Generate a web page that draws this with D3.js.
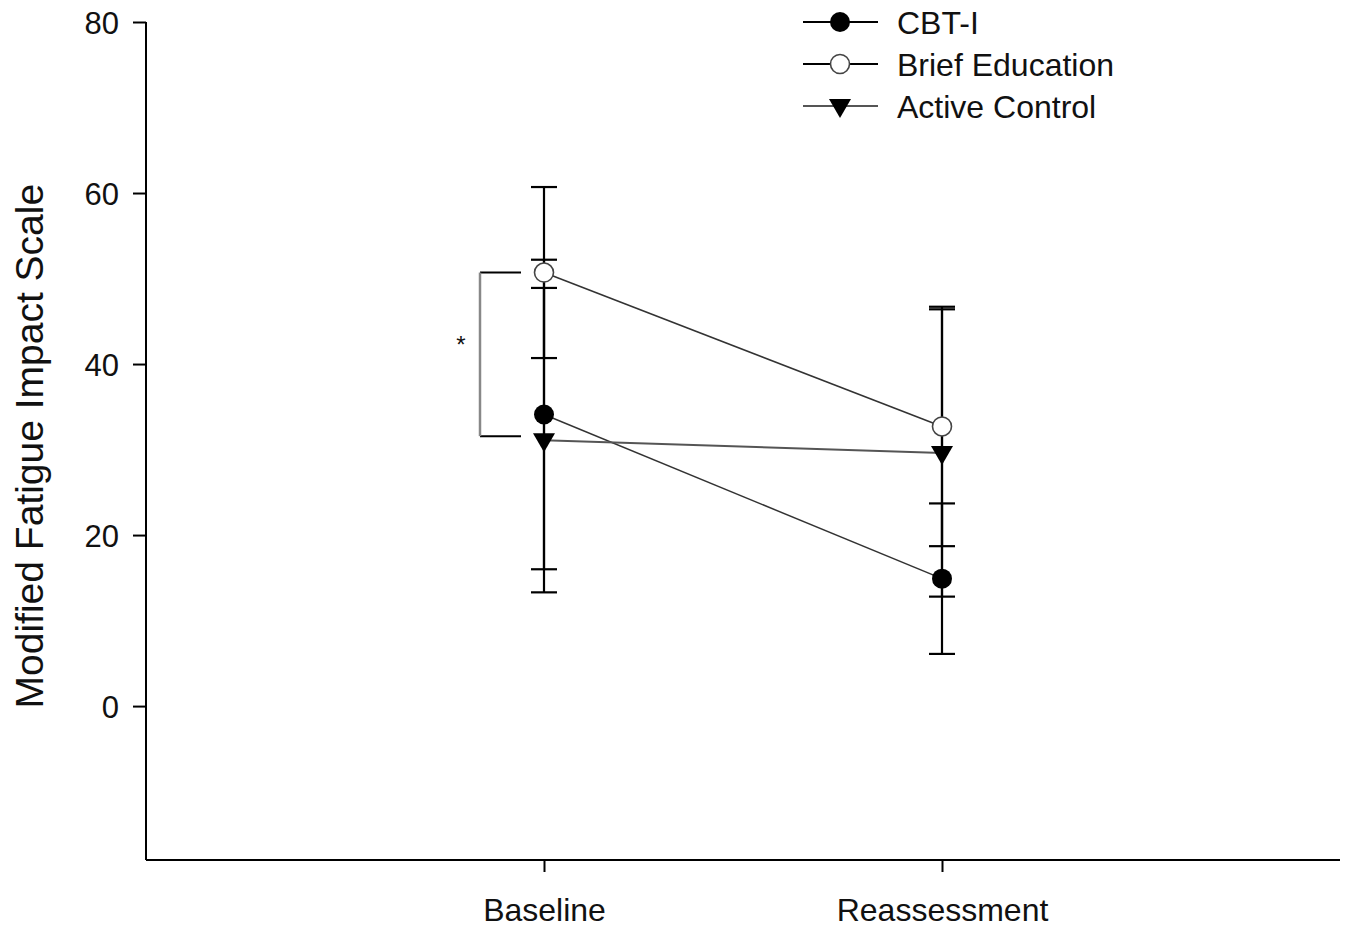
<!DOCTYPE html>
<html>
<head>
<meta charset="utf-8">
<script src="https://cdn.jsdelivr.net/npm/d3@7"></script>
<style>
  body { margin: 0; background: #fff; }
  text { font-family: "Liberation Sans", Arial, sans-serif; fill: #111; }
</style>
</head>
<body>
<div id="chart"></div>
<script>
var categories = ["Baseline", "Reassessment"];
var seriesNames = ["CBT-I", "Brief Education", "Active Control"];
var cbtMeans = [34.1, 14.9];
var cbtSD = [18.1, 8.8];
var briefMeans = [50.7, 32.7];
var briefSD = [10.0, 14.0];
var activeMeans = [31.1, 29.6];
var activeSD = [17.8, 16.8];
var yTicks = [0, 20, 40, 60, 80];

function init() {
    var w = 1356;
    var h = 928;

    var svg = d3.select("#chart")
        .append("svg")
        .attr("width", w)
        .attr("height", h);

    var x = d3.scaleLinear().domain([0, 3]).range([146, 1340]);
    var y = d3.scaleLinear().domain([-18, 80]).range([860, 22]);

    var series = [
        { name: seriesNames[0], means: cbtMeans, sd: cbtSD, marker: "filled", lineColor: "#333", lineWidth: 1.5 },
        { name: seriesNames[1], means: briefMeans, sd: briefSD, marker: "open", lineColor: "#333", lineWidth: 1.5 },
        { name: seriesNames[2], means: activeMeans, sd: activeSD, marker: "triangle", lineColor: "#555", lineWidth: 2 }
    ];

    // axes
    var yAxis = d3.axisLeft(y).tickValues(yTicks).tickSize(13).tickPadding(14);
    var gy = svg.append("g").attr("transform", "translate(146,0)").call(yAxis);
    gy.select(".domain").attr("d", "M0," + y(80) + "V" + y(-18)).attr("stroke", "#000").attr("stroke-width", 2);
    gy.selectAll(".tick line").attr("stroke", "#000").attr("stroke-width", 2);
    gy.selectAll(".tick text").style("font-size", "31px").attr("dy", "0.36em");

    var xAxis = d3.axisBottom(x).tickValues([1, 2])
        .tickFormat(function(d) { return categories[d - 1]; })
        .tickSize(12).tickPadding(26);
    var gx = svg.append("g").attr("transform", "translate(0,860)").call(xAxis);
    gx.select(".domain").attr("d", "M146,0H1340").attr("stroke", "#000").attr("stroke-width", 2);
    gx.selectAll(".tick line").attr("stroke", "#000").attr("stroke-width", 2);
    gx.selectAll(".tick text").style("font-size", "32px");

    svg.append("text")
        .attr("transform", "translate(43," + (y(30.4)) + ") rotate(-90)")
        .attr("text-anchor", "middle")
        .style("font-size", "39px")
        .text("Modified Fatigue Impact Scale");

    // connecting lines
    var line = d3.line()
        .x(function(d, i) { return x(i + 1); })
        .y(function(d) { return y(d); });

    series.forEach(function(s) {
        svg.append("path")
            .datum(s.means)
            .attr("d", line)
            .attr("fill", "none")
            .attr("stroke", s.lineColor)
            .attr("stroke-width", s.lineWidth);
    });

    // error bars
    var capW = 13;
    series.forEach(function(s) {
        s.means.forEach(function(m, i) {
            var cx = x(i + 1);
            var g = svg.append("g").attr("stroke", "#000").attr("stroke-width", 2.2);
            g.append("line").attr("x1", cx).attr("x2", cx).attr("y1", y(m + s.sd[i])).attr("y2", y(m - s.sd[i]));
            g.append("line").attr("x1", cx - capW).attr("x2", cx + capW).attr("y1", y(m + s.sd[i])).attr("y2", y(m + s.sd[i]));
            g.append("line").attr("x1", cx - capW).attr("x2", cx + capW).attr("y1", y(m - s.sd[i])).attr("y2", y(m - s.sd[i]));
        });
    });

    function drawMarker(g, type, cx, cy) {
        if (type === "filled") {
            g.append("circle").attr("cx", cx).attr("cy", cy).attr("r", 10).attr("fill", "#000");
        } else if (type === "open") {
            g.append("circle").attr("cx", cx).attr("cy", cy).attr("r", 9.5)
                .attr("fill", "#fff").attr("stroke", "#444").attr("stroke-width", 1.6);
        } else {
            g.append("path")
                .attr("d", "M" + (cx - 11) + "," + (cy - 7) + "L" + (cx + 11) + "," + (cy - 7) + "L" + cx + "," + (cy + 12) + "Z")
                .attr("fill", "#000");
        }
    }

    series.forEach(function(s) {
        var g = svg.append("g");
        s.means.forEach(function(m, i) {
            drawMarker(g, s.marker, x(i + 1), y(m));
        });
    });

    // significance bracket (Brief Education vs Active Control at baseline)
    var bx = x(1) - 64;
    var yTop = y(briefMeans[0]);
    var yBot = y(activeMeans[0]) - 4;
    svg.append("line").attr("x1", bx).attr("x2", x(1) - 23).attr("y1", yTop).attr("y2", yTop)
        .attr("stroke", "#000").attr("stroke-width", 2);
    svg.append("line").attr("x1", bx).attr("x2", x(1) - 23).attr("y1", yBot).attr("y2", yBot)
        .attr("stroke", "#000").attr("stroke-width", 2);
    svg.append("line").attr("x1", bx).attr("x2", bx).attr("y1", yTop).attr("y2", yBot)
        .attr("stroke", "#888").attr("stroke-width", 2.5);
    svg.append("text")
        .attr("x", bx - 19)
        .attr("y", (yTop + yBot) / 2 - 1)
        .attr("text-anchor", "middle")
        .style("font-size", "24px")
        .text("*");

    // legend
    var legend = svg.append("g");
    series.forEach(function(s, i) {
        var ly = 22 + i * 42;
        legend.append("line").attr("x1", 803).attr("x2", 878).attr("y1", ly).attr("y2", ly)
            .attr("stroke", i === 2 ? "#555" : "#000").attr("stroke-width", 2);
        drawMarker(legend, s.marker, 840, ly);
        legend.append("text")
            .attr("x", 897)
            .attr("y", ly)
            .attr("dy", "0.36em")
            .style("font-size", "32px")
            .text(s.name);
    });
}

window.onload = init;
</script>
</body>
</html>
